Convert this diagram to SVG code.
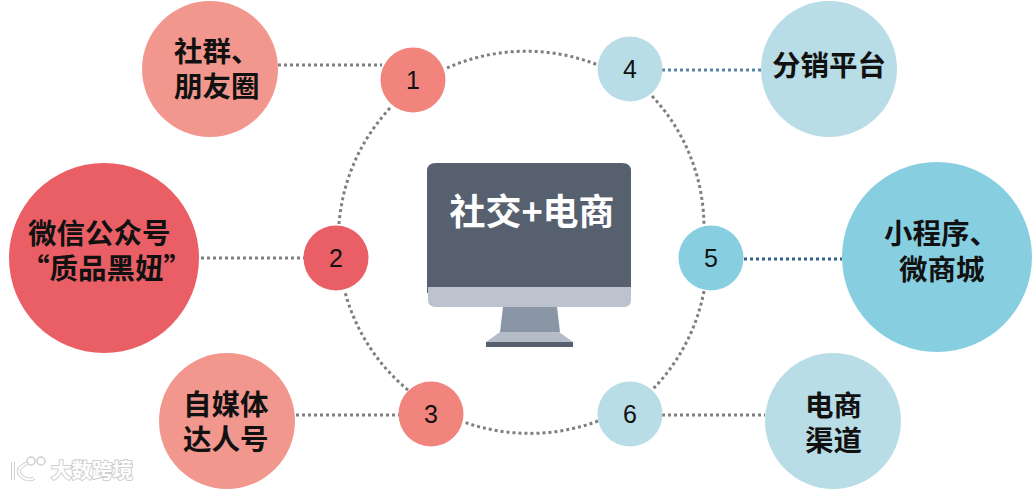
<svg xmlns="http://www.w3.org/2000/svg" width="1033" height="489" viewBox="0 0 1033 489">
<style>
.c{fill:none;stroke:#7f7f7f;stroke-width:3;stroke-dasharray:3 3}
.t{font-family:"Noto Sans CJK SC","Noto Sans CJK TC",sans-serif;font-weight:700;font-size:28.500px;fill:#111}
.n{font-family:"Liberation Sans",Arial,sans-serif;font-size:25px;fill:#111;text-anchor:middle}
.w{fill:#fff;stroke:#cfcfcf;stroke-width:2;paint-order:stroke}
</style>
<rect width="1033" height="489" fill="#fff"/>
<g id="connectors">
<path class="c" d="M278 65H382"/>
<path class="c" d="M201 258H304"/>
<path class="c" d="M296 415H399"/>
<path class="c" d="M662 70H761" style="stroke:#5a82a8"/>
<path class="c" d="M744 259H842" style="stroke:#2f5f8a"/>
<path class="c" d="M662 415H765"/>
<path class="c" d="M447 68A195 195 0 0 1 598 65"/>
<path class="c" d="M652 96A192 192 0 0 1 704 226"/>
<path class="c" d="M704 291A192 192 0 0 1 652 390"/>
<path class="c" d="M598 421A195 195 0 0 1 464 422"/>
<path class="c" d="M408 390A192 192 0 0 1 345 292"/>
<path class="c" d="M339 224A192 192 0 0 1 392 106"/>
</g>
<g id="monitor">
<path d="M427 293V171Q427 163 436 163H622Q631 163 631 171V293Z" fill="#56606f"/>
<path d="M428 287H631V300Q631 307 624 307H436Q428 307 428 300Z" fill="#bcc3ce"/>
<path d="M503 307H557L560 332H500Z" fill="#8a95a6"/>
<path d="M500 332H559L573 342H486Z" fill="#b5bcc8"/>
<rect x="486" y="342" width="87" height="5" fill="#56606f"/>
<text x="532" y="225" font-family="&quot;Noto Sans CJK SC&quot;,sans-serif" font-weight="700" font-size="36" fill="#fff" text-anchor="middle">社交+电商</text>
</g>
<g id="hub-1"><circle cx="413" cy="80" r="32.500" fill="#f1847c"/><text class="n" x="413" y="89">1</text></g>
<g id="hub-2"><circle cx="336" cy="258" r="32.500" fill="#e95f65"/><text class="n" x="336" y="267">2</text></g>
<g id="hub-3"><circle cx="431" cy="414" r="32.500" fill="#f1847c"/><text class="n" x="431" y="423">3</text></g>
<g id="hub-4"><circle cx="630" cy="69" r="32.500" fill="#b9dde6"/><text class="n" x="630" y="78">4</text></g>
<g id="hub-5"><circle cx="711" cy="258" r="32.500" fill="#87cfe0"/><text class="n" x="711" y="267">5</text></g>
<g id="hub-6"><circle cx="630" cy="414" r="32.500" fill="#b9dde6"/><text class="n" x="630" y="423">6</text></g>
<g id="node-1"><circle cx="210" cy="69" r="68" fill="#f2978e"/><text class="t"><tspan x="174" y="62">社群、</tspan><tspan x="174" y="97">朋友圈</tspan></text></g>
<g id="node-2"><circle cx="104" cy="258" r="95" fill="#e95f65"/><text class="t"><tspan x="28" y="244">微信公众号</tspan><tspan x="21" y="279">“质品黑妞”</tspan></text></g>
<g id="node-3"><circle cx="227" cy="421" r="68" fill="#f2978e"/><text class="t"><tspan x="183" y="415">自媒体</tspan><tspan x="183" y="450">达人号</tspan></text></g>
<g id="node-4"><circle cx="829" cy="69" r="68" fill="#b9dde6"/><text class="t" x="772" y="76">分销平台</text></g>
<g id="node-5"><circle cx="937" cy="257" r="95" fill="#87cfe0"/><text class="t"><tspan x="884" y="244">小程序、</tspan><tspan x="899" y="280">微商城</tspan></text></g>
<g id="node-6"><circle cx="833" cy="421" r="68" fill="#b9dde6"/><text class="t"><tspan x="805" y="416">电商</tspan><tspan x="805" y="451">渠道</tspan></text></g>
<g id="watermark">
<text class="w" x="51" y="478" font-family="&quot;Noto Sans CJK SC&quot;,sans-serif" font-size="20.500" font-weight="700">大数跨境</text>
<path d="M13 462V480M27 463Q12 471 24 478Q30 481 34 478" fill="none" stroke="#cfcfcf" stroke-width="4"/>
<path d="M13 462V480M27 463Q12 471 24 478Q30 481 34 478" fill="none" stroke="#fff" stroke-width="2"/>
<circle cx="31" cy="461" r="4" fill="#fff" stroke="#cfcfcf" stroke-width="1.500"/>
<circle cx="41" cy="461" r="4" fill="#fff" stroke="#cfcfcf" stroke-width="1.500"/>
</g>
</svg>
